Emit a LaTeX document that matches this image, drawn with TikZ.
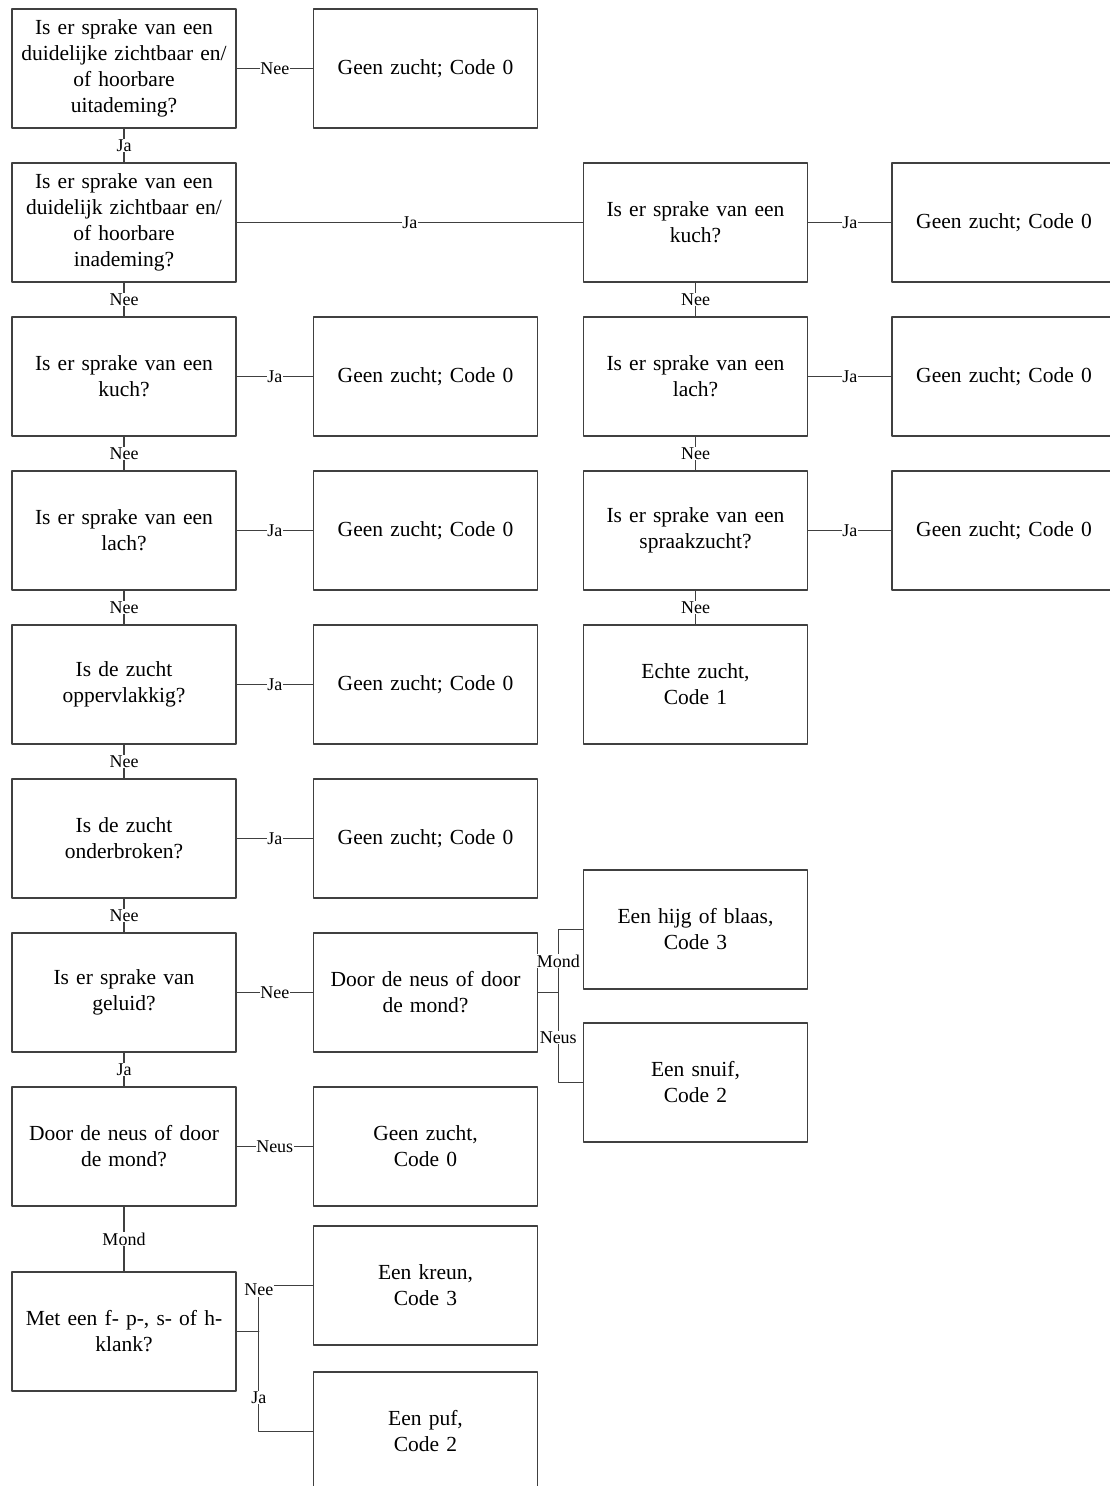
\documentclass[tikz,border=0pt]{standalone}
\usepackage{fontspec}
\setmainfont{Liberation Serif}

\begin{document}
\begin{tikzpicture}[x=1pt, y=-1pt, line cap=round, line join=round,
    box/.style = {draw=black!75, line width=1.5pt, minimum width=224pt, minimum height=119pt,
        inner sep=2pt, text width=214pt, align=center, font=\fontsize{21.5}{26}\selectfont},
    lbl/.style = {fill=white, inner sep=0.6pt, font=\fontsize{18}{20}\selectfont},
    conn/.style = {draw=black!75, line width=1.4pt}]
	\useasboundingbox (0,0) rectangle (1109,1486);

	%Left Column
	\node[box] (a1) at (124,68.5) {Is er sprake van een\\ duidelijke zichtbaar en/\\ of hoorbare\\ uitademing?};
	\node[box] (a2) at (124,222.5) {Is er sprake van een\\ duidelijk zichtbaar en/\\ of hoorbare\\ inademing?};
	\node[box] (a3) at (124,376.5) {Is er sprake van een\\ kuch?};
	\node[box] (a4) at (124,530.5) {Is er sprake van een\\ lach?};
	\node[box] (a5) at (124,684.5) {Is de zucht\\ oppervlakkig?};
	\node[box] (a6) at (124,838.5) {Is de zucht\\ onderbroken?};
	\node[box] (a7) at (124,992.5) {Is er sprake van\\ geluid?};
	\node[box] (a8) at (124,1146.5) {Door de neus of door\\ de mond?};
	\node[box] (a9) at (124,1331.5) {Met een f- p-, s- of h-\\ klank?};

	%Second Column
	\node[box] (b1) at (425.5,68.5) {Geen zucht; Code 0};
	\node[box] (b3) at (425.5,376.5) {Geen zucht; Code 0};
	\node[box] (b4) at (425.5,530.5) {Geen zucht; Code 0};
	\node[box] (b5) at (425.5,684.5) {Geen zucht; Code 0};
	\node[box] (b6) at (425.5,838.5) {Geen zucht; Code 0};
	\node[box] (b7) at (425.5,992.5) {Door de neus of door\\ de mond?};
	\node[box] (b8) at (425.5,1146.5) {Geen zucht,\\ Code 0};
	\node[box] (kreun) at (425.5,1285.5) {Een kreun,\\ Code 3};
	\node[box] (puf) at (425.5,1431.5) {Een puf,\\ Code 2};

	%Third Column
	\node[box] (c2) at (695.5,222.5) {Is er sprake van een\\ kuch?};
	\node[box] (c3) at (695.5,376.5) {Is er sprake van een\\ lach?};
	\node[box] (c4) at (695.5,530.5) {Is er sprake van een\\ spraakzucht?};
	\node[box] (c5) at (695.5,684.5) {Echte zucht,\\ Code 1};
	\node[box] (hijg) at (695.5,929.5) {Een hijg of blaas,\\ Code 3};
	\node[box] (snuif) at (695.5,1082.5) {Een snuif,\\ Code 2};

	%Right Column
	\node[box] (d2) at (1004,222.5) {Geen zucht; Code 0};
	\node[box] (d3) at (1004,376.5) {Geen zucht; Code 0};
	\node[box] (d4) at (1004,530.5) {Geen zucht; Code 0};

	%Connectors
	\draw[conn] (a1) -- node[lbl] {Nee} (b1);
	\draw[conn] (a1) -- node[lbl] {Ja} (a2);
	\draw[conn] (a2) -- node[lbl] {Ja} (c2);
	\draw[conn] (c2) -- node[lbl] {Ja} (d2);
	\draw[conn] (a2) -- node[lbl] {Nee} (a3);
	\draw[conn] (c2) -- node[lbl] {Nee} (c3);
	\draw[conn] (a3) -- node[lbl] {Ja} (b3);
	\draw[conn] (c3) -- node[lbl] {Ja} (d3);
	\draw[conn] (a3) -- node[lbl] {Nee} (a4);
	\draw[conn] (c3) -- node[lbl] {Nee} (c4);
	\draw[conn] (a4) -- node[lbl] {Ja} (b4);
	\draw[conn] (c4) -- node[lbl] {Ja} (d4);
	\draw[conn] (a4) -- node[lbl] {Nee} (a5);
	\draw[conn] (c4) -- node[lbl] {Nee} (c5);
	\draw[conn] (a5) -- node[lbl] {Ja} (b5);
	\draw[conn] (a5) -- node[lbl] {Nee} (a6);
	\draw[conn] (a6) -- node[lbl] {Ja} (b6);
	\draw[conn] (a6) -- node[lbl] {Nee} (a7);
	\draw[conn] (a7) -- node[lbl] {Nee} (b7);
	\draw[conn] (a7) -- node[lbl] {Ja} (a8);
	\draw[conn] (a8) -- node[lbl] {Neus} (b8);
	\draw[conn] (a8) -- node[lbl] {Mond} (a9);

	%Splits
	\draw[conn] (b7.east) -- ++(20,0) coordinate (split7);
	\draw[conn] (split7) |- node[lbl, pos=0.25] {Mond} (hijg);
	\draw[conn] (split7) |- node[lbl, pos=0.25] {Neus} (snuif);
	\draw[conn] (a9.east) -- ++(22,0) coordinate (split9);
	\draw[conn] (split9) |- node[lbl, pos=0.45] {Nee} (kreun);
	\draw[conn] (split9) |- node[lbl, pos=0.33] {Ja} (puf);
\end{tikzpicture}
\end{document}
